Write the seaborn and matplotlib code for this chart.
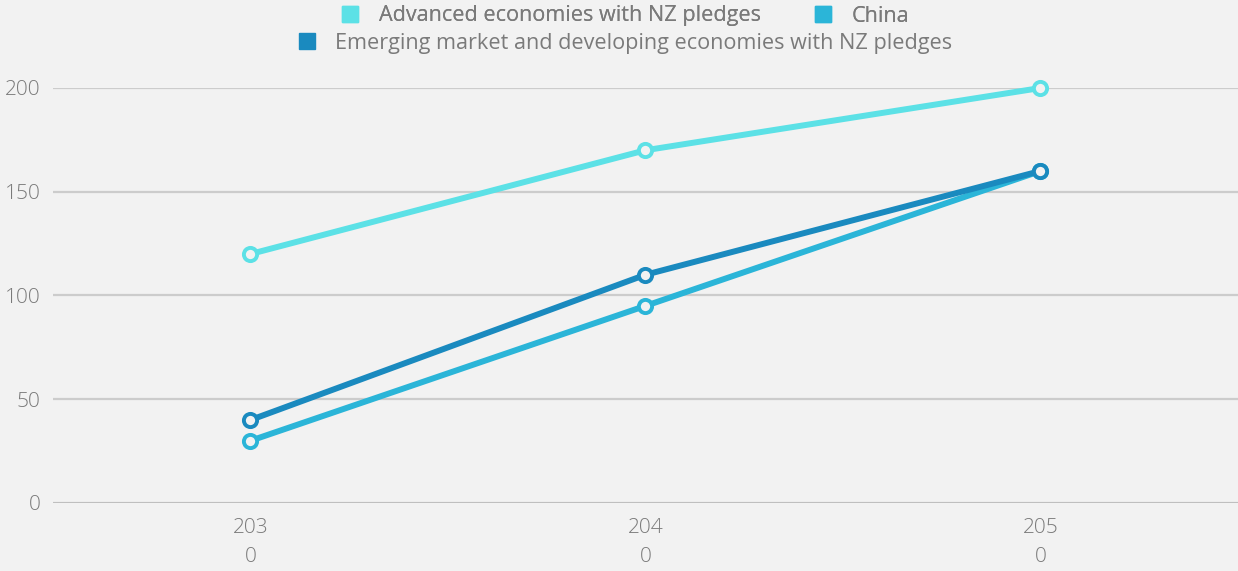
import matplotlib
matplotlib.use("Agg")
import matplotlib.pyplot as plt
import seaborn as sns
import pandas as pd
from matplotlib.lines import Line2D

years = ["203\n0", "204\n0", "205\n0"]
advanced = [120, 170, 200]
china = [30, 95, 160]
emerging = [40, 110, 160]
series_names = ["Advanced economies with NZ pledges", "China",
                "Emerging market and developing economies with NZ pledges"]
colors = ["#5ce1e6", "#2bb5d8", "#1a8abf"]

rows = []
for name, vals in zip(series_names, [advanced, china, emerging]):
    for i, v in enumerate(vals):
        rows.append({"x": i, "value": v, "series": name})
df = pd.DataFrame(rows)

sns.set_theme(style="white")
plt.rcParams['font.family'] = ['Open Sans', 'DejaVu Sans']
BG = "#f2f2f2"
TXT = "#7a7a7a"

fig = plt.figure(figsize=(12.38, 5.71), dpi=100, facecolor=BG)
ax = fig.add_axes([0.0428, 0.1191, 0.9572, 0.7268], facecolor=BG)

sns.lineplot(data=df, x="x", y="value", hue="series", hue_order=series_names,
             palette=colors, linewidth=4.3, ax=ax, legend=False, sort=False)
for line, c in zip(ax.lines, colors):
    line.set_marker("o")
    line.set_markersize(9.5)
    line.set_markerfacecolor(BG)
    line.set_markeredgecolor(c)
    line.set_markeredgewidth(2.8)
    line.set_clip_on(False)
    line.set_solid_capstyle("round")

ax.set_xlim(-0.5, 2.5)
ax.set_ylim(0, 200)
ax.set_xticks([0, 1, 2])
ax.set_xticklabels(years)
ax.set_yticks([0, 50, 100, 150, 200])
ax.set_xlabel("")
ax.set_ylabel("")
for s in ax.spines.values():
    s.set_visible(False)
ax.grid(axis="y", color="#cccccc", linewidth=1.6)
ax.set_axisbelow(True)
ax.axhline(0, color="#bbbbbb", linewidth=1.8, zorder=1)
ax.tick_params(axis="both", length=0, labelsize=15, colors=TXT)
ax.tick_params(axis="x", pad=11)
ax.tick_params(axis="y", pad=9)
for t in ax.get_xticklabels():
    t.set_linespacing(1.6)
    t.set_fontweight("light")
for t in ax.get_yticklabels():
    t.set_fontweight("light")

def handle(c):
    return Line2D([], [], marker="s", linestyle="none", markersize=11,
                  markerfacecolor=c, markeredgecolor=c)

leg1 = fig.legend([handle(colors[0]), handle(colors[1])], series_names[:2],
                  loc="center", bbox_to_anchor=(0.5, 1 - 16 / 571), ncol=2,
                  frameon=False, fontsize=15.6, labelcolor=TXT, handletextpad=0.3,
                  columnspacing=1.9, borderpad=0, borderaxespad=0)
leg2 = fig.legend([handle(colors[2])], series_names[2:],
                  loc="center", bbox_to_anchor=(0.5, 1 - 43 / 571), ncol=1,
                  frameon=False, fontsize=15.6, labelcolor=TXT, handletextpad=0.3,
                  borderpad=0, borderaxespad=0)
fig.add_artist(leg1)

fig.savefig("out.png", dpi=100, facecolor=BG)
